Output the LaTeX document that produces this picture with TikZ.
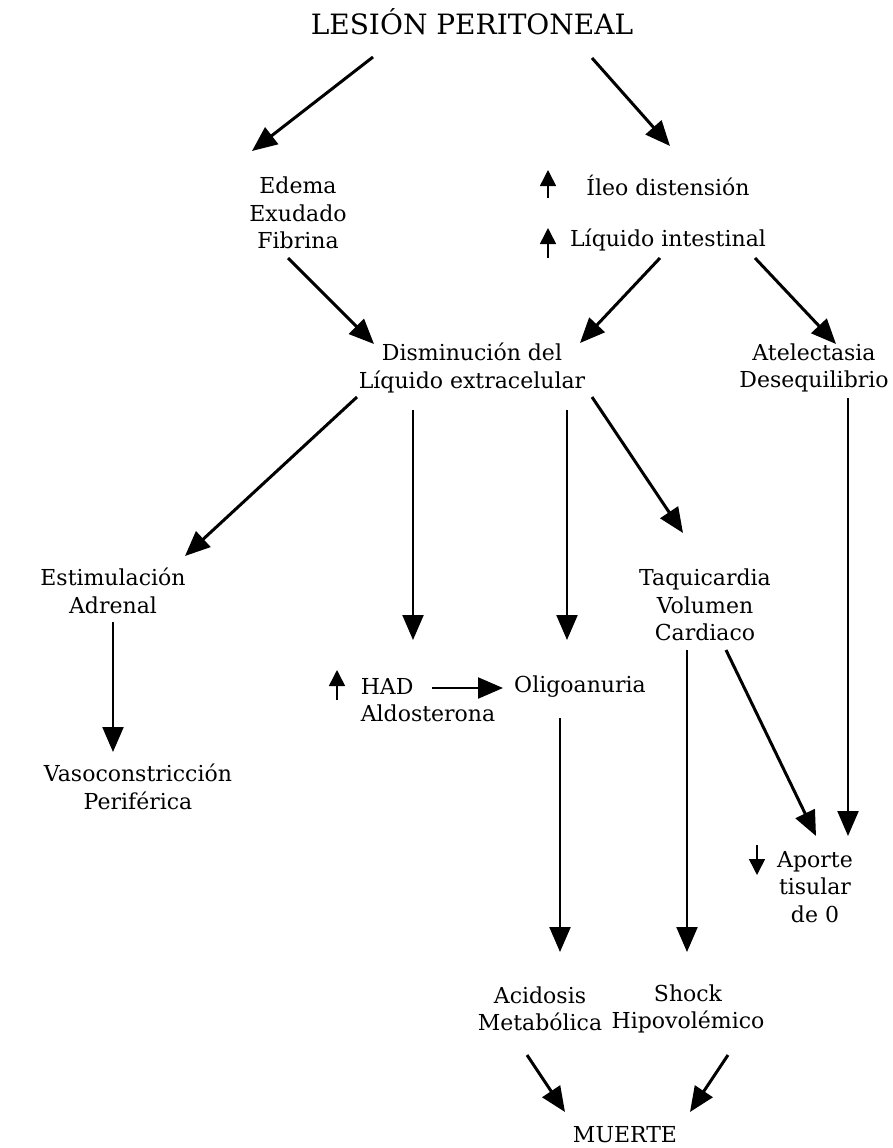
\documentclass[tikz,border=0pt]{standalone}
\usepackage{fontspec}
\setmainfont{DejaVu Serif}
\usetikzlibrary{arrows.meta}
\begin{document}
\begin{tikzpicture}[x=1pt,y=-1pt,line cap=butt,line join=miter]
	\tikzset{
		flecha/.style={-{Triangle[length=25pt,width=21pt]},line width=3pt},
		flechav/.style={-{Triangle[length=25pt,width=21pt]},line width=2.2pt},
		marca/.style={-{Triangle[length=16pt,width=16pt]},line width=1.5pt},
		texto/.style={align=center,inner sep=1pt,font=\fontsize{22}{27.5}\selectfont},
		titulo/.style={inner sep=1pt,font=\fontsize{28}{32}\selectfont}
	}
	\useasboundingbox (0,0) rectangle (892,1148);
	% nodos
	\node[titulo] (les) at (472,22) {LESIÓN PERITONEAL};
	\node[texto] (edema) at (298,213) {Edema\\Exudado\\Fibrina};
	\node[texto] (ileo) at (668,185) {Íleo distensión};
	\node[texto] (liq) at (668,240) {Líquido intestinal};
	\node[texto] (dism) at (472,368) {Disminución del\\Líquido extracelular};
	\node[texto] (atel) at (814,368) {Atelectasia\\Desequilibrio};
	\node[texto] (estim) at (113,591) {Estimulación\\Adrenal};
	\node[texto] (taqui) at (705,605) {Taquicardia\\Volumen\\Cardiaco};
	\node[texto,align=left] (had) at (428,700) {HAD\\Aldosterona};
	\node[texto] (olig) at (580,687) {Oligoanuria};
	\node[texto] (vaso) at (138,787) {Vasoconstricción\\Periférica};
	\node[texto] (aporte) at (815,887) {Aporte\\tisular\\de 0};
	\node[texto] (acid) at (540,1009) {Acidosis\\Metabólica};
	\node[texto] (shock) at (688,1009) {Shock\\Hipovolémico};
	\node[texto] (muerte) at (625,1135) {MUERTE};
	% flechas
	\draw[flecha] ([shift={(-99,35)}]les.center) -- ([shift={(-46,-62)}]edema.center);
	\draw[flecha] ([shift={(120,36)}]les.center) -- ([shift={(2,-39)}]ileo.center);
	\draw[flecha] ([shift={(-10,45)}]edema.center) -- ([shift={(-98,-24)}]dism.center);
	\draw[flecha] ([shift={(-8,18)}]liq.center) -- ([shift={(108,-25)}]dism.center);
	\draw[flecha] ([shift={(87,18)}]liq.center) -- ([shift={(22,-24)}]atel.center);
	\draw[flecha] ([shift={(-115,29)}]dism.center) -- ([shift={(72,-35)}]estim.center);
	\draw[flechav] ([shift={(-59,42)}]dism.center) -- ([shift={(-15,-60)}]had.center);
	\draw[flechav] ([shift={(95,42)}]dism.center) -- ([shift={(-13,-47)}]olig.center);
	\draw[flecha] ([shift={(120,29)}]dism.center) -- ([shift={(-22,-72)}]taqui.center);
	\draw[flechav] ([shift={(34,30)}]atel.center) -- ([shift={(33,-51)}]aporte.center);
	\draw[flechav] ([shift={(0,31)}]estim.center) -- ([shift={(-25,-35)}]vaso.center);
	\draw[flechav] ([shift={(4,-12)}]had.center) -- ([shift={(-77,1)}]olig.center);
	\draw[flechav] ([shift={(-20,31)}]olig.center) -- ([shift={(20,-57)}]acid.center);
	\draw[flechav] ([shift={(-18,45)}]taqui.center) -- ([shift={(-1,-57)}]shock.center);
	\draw[flecha] ([shift={(21,45)}]taqui.center) -- ([shift={(1,-51)}]aporte.center);
	\draw[flecha] ([shift={(-13,46)}]acid.center) -- ([shift={(-60,-23)}]muerte.center);
	\draw[flecha] ([shift={(40,46)}]shock.center) -- ([shift={(65,-23)}]muerte.center);
	% marcas de aumento y descenso
	\draw[marca] ([shift={(-120,13)}]ileo.center) -- ++(0,-28);
	\draw[marca] ([shift={(-120,18)}]liq.center) -- ++(0,-30);
	\draw[marca] ([shift={(-91,0)}]had.center) -- ++(0,-30);
	\draw[marca] ([shift={(-58,-42)}]aporte.center) -- ++(0,30);
\end{tikzpicture}
\end{document}
